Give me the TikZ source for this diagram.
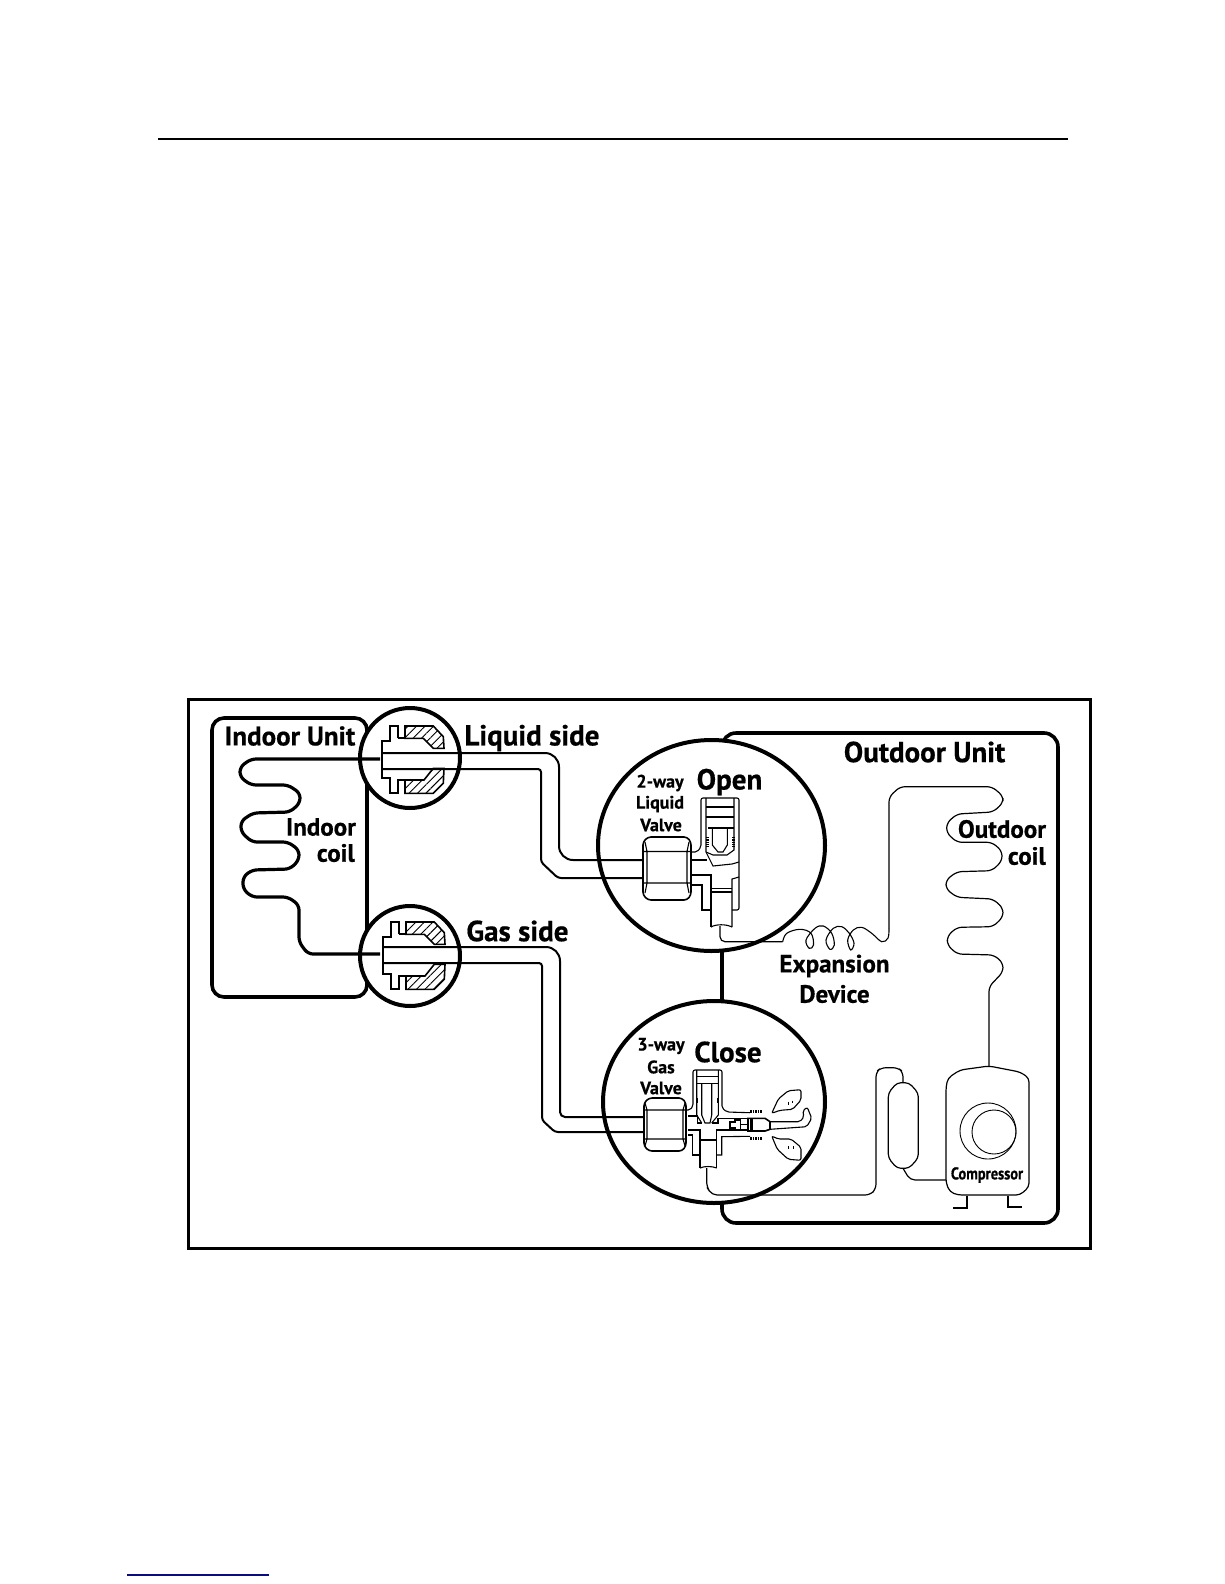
\documentclass[tikz,border=0pt]{standalone}
\usepackage{fontspec}
\setmainfont{PT Sans}[BoldFeatures={FakeBold=0.6}]
\usetikzlibrary{arrows.meta,positioning,patterns.meta}

\begin{document}
\begin{tikzpicture}[x=1pt, y=-1pt,
  lbl/.style={inner sep=0pt, font=\fontsize{29}{29}\selectfont\bfseries},
  midlbl/.style={inner sep=0pt, font=\fontsize{25}{25}\selectfont\bfseries},
  smalllbl/.style={inner sep=0pt, font=\fontsize{18}{18}\selectfont\bfseries},
  ring/.style={line width=4pt, fill=white},
  unitbox/.style={line width=3.6pt, rounded corners=12pt},
  pipe/.style={line width=2pt},
  coilpipe/.style={line width=3.2pt, rounded corners=5pt},
  thin pipe/.style={line width=1.2pt, rounded corners=5pt},
  part/.style={line width=1.1pt},
  flarepart/.style={line width=2pt},
  hatched/.style={line width=1.6pt, pattern={Lines[angle=45, distance=6pt, line width=0.9pt]}},
  thread/.style={line width=3pt, dash pattern=on 1.3pt off 1pt}]
  \useasboundingbox (0,0) rectangle (1224,1584);
  % page rules and frame
  \draw[line width=2pt] (158,139) -- (1068,139);
  \draw[line width=1.5pt, color={rgb,255:red,10;green,10;blue,130}] (127,1575) -- (269,1575);
  \draw[line width=3pt] (188,699) rectangle (1090,1248);
  % unit boxes
  \draw[unitbox] (212,718) rectangle (367,997);
  \draw[unitbox, rounded corners=14pt] (722,742) -- (722,733) -- (1058,733) -- (1058,1223) -- (722,1223) -- (722,1190);
  \draw[line width=4.5pt] (722,950) -- (722,1002);
  % rings
  \node[ring, circle, draw, minimum size=100pt, inner sep=0pt] (liquidring) at (410,758) {};
  \node[ring, circle, draw, minimum size=100pt, inner sep=0pt] (gasring) at (410,956) {};
  \draw[ring] (711.5,845.5) ellipse [x radius=113.5, y radius=105.5];
  \draw[ring] (714,1102) ellipse [x radius=111, y radius=101];
  % indoor coil
  \draw[coilpipe] (380,759) -- (251,759) -- (240,767) -- (240,777) -- (251,785) -- (288,785) -- (300,793) -- (300,803)
    -- (290,812) -- (253,813) -- (241,821) -- (241,832) -- (252,842) -- (288,842) -- (299,850) -- (299,860)
    -- (290,869) -- (252,870) -- (243,877) -- (243,889) -- (252,897) -- (288,897) -- (299,905) -- (299,942)
    -- (308,954) -- (380,954);
  % flare joints
  \begin{scope}[shift={(410,758)}]
    \draw[hatched] (-5,-32) -- (23.3,-32) -- (33.3,-21.3) -- (34,-9.7) -- (23.3,-9.7) -- (13.3,-19.7) -- (-5,-19.7) -- cycle;
    \draw[hatched] (-5,35.3) -- (23.3,35.3) -- (33.3,25.3) -- (34,10.3) -- (23.3,10.3) -- (14,22) -- (-5,22) -- cycle;
    \draw[flarepart] (-12.3,-19.7) -- (-12.3,-32) -- (-20,-32) -- (-20,-17) -- (-28.3,-17) -- (-28.3,20.3)
      -- (-20,20.3) -- (-20,35.3) -- (-12.3,35.3) -- (-12.3,22) -- (-5,22);
    \draw[flarepart] (-12.3,-19.7) -- (-5,-19.7);
  \end{scope}
  \begin{scope}[shift={(411,954)}]
    \draw[hatched] (-5,-32) -- (23.3,-32) -- (33.3,-21.3) -- (34,-9.7) -- (23.3,-9.7) -- (13.3,-19.7) -- (-5,-19.7) -- cycle;
    \draw[hatched] (-5,35.3) -- (23.3,35.3) -- (33.3,25.3) -- (34,10.3) -- (23.3,10.3) -- (14,22) -- (-5,22) -- cycle;
    \draw[flarepart] (-12.3,-19.7) -- (-12.3,-32) -- (-20,-32) -- (-20,-17) -- (-28.3,-17) -- (-28.3,20.3)
      -- (-20,20.3) -- (-20,35.3) -- (-12.3,35.3) -- (-12.3,22) -- (-5,22);
    \draw[flarepart] (-12.3,-19.7) -- (-5,-19.7);
  \end{scope}
  % liquid and gas pipes
  \draw[pipe, rounded corners=14pt] (382,753) -- (559,753) -- (559,860) [rounded corners=5pt] -- (643,860);
  \draw[pipe, rounded corners=3pt] (382,769) -- (541,769) -- (541,862) -- (558,878) -- (643,878);
  \draw[pipe, rounded corners=14pt] (383,947) -- (560,947) [rounded corners=5pt] -- (560,1117) -- (644,1117);
  \draw[pipe, rounded corners=3pt] (383,963) -- (542,963) -- (542,1120) -- (555,1132) -- (644,1132);
  % open valve
  \draw[line width=1.6pt, rounded corners=3pt, fill=white] (648,837) -- (687,837) -- (691,842) -- (691,895) -- (687,900) -- (648,900) -- (643,895) -- (643,842) -- cycle;
  \draw[part] (644,851.5) -- (690,851.5) (644,883) -- (690,883)
    (645,842) -- (647,851.5) -- (647,883) -- (645,893) (689,842) -- (687,851.5) -- (687,883) -- (689,893);
  \draw[part, rounded corners=2pt] (692,852) -- (697,852) -- (701,847) -- (701,798) -- (739,798) -- (739,910) -- (732,910);
  \draw[part] (706,798) -- (706,852) -- (713,866) -- (732,864) -- (739,862);
  \draw[part] (734,798) -- (734,850) -- (727,855) -- (713,855) -- (706,852);
  \draw[part] (706,807) -- (734,807) (706,817) -- (734,817) (708,828) -- (734,828);
  \draw[part] (712.3,828) -- (712.3,845) -- (718,852) -- (723,852) -- (727.3,845) -- (727.3,828);
  \draw[thread] (707,837) -- (707,847);
  \draw[thread] (733,837) -- (733,847);
  \draw[part] (692,860) -- (707,860);
  \draw[part] (692,875) -- (711,875) -- (711,927);
  \draw[part] (692,885) -- (702,885) -- (702,910) -- (711,910);
  \draw[part] (739,877) -- (732,879) -- (732,927);
  \draw[part] (711,927) .. controls (716,924) and (726,924) .. (732,927);
  \draw[part] (711,888.5) -- (732,888.5);
  \draw[line width=2pt] (711,892) -- (732,892);
  % expansion device and outdoor coil
  \draw[thin pipe] (720,926) -- (720,941.7) -- (782.7,941.7);
  \draw[part] plot[smooth, tension=0.6] coordinates {(782.7,941.7) (786.7,933.3) (800,929.3) (811,933.3) (813.5,945) (809.3,948.3)
    (806,940) (815,928.3) (823.3,926) (831.7,933.3) (834.3,945) (830,949.3) (826,940) (833.3,928.3) (841.7,926.7)
    (849.3,933.3) (854,943.3) (850.7,950) (847.7,940) (853.3,930) (861.7,927.3) (871.7,933.3) (881.7,941.7) (888,938) (889,928)};
  \draw[thin pipe] (889,928) -- (889,797) -- (900,786.7) -- (992,786.7) -- (1003,796) -- (1003,803) -- (993,812) -- (957,814)
    -- (946.7,823) -- (946.7,833) -- (957,842.3) -- (992,842.3) -- (1002,851) -- (1002,861) -- (992,870.7) -- (957,871.7)
    -- (946,880) -- (946,889) -- (957,897.3) -- (993,899) -- (1003,908) -- (1003,917) -- (993,926.7) -- (957,927.3)
    -- (947.3,936) -- (947.3,945) -- (957,954) -- (994,955) -- (1003,963) -- (1003,972) -- (989,986.7) -- (989,1066);
  % close valve
  \draw[line width=1.6pt, rounded corners=3pt, fill=white] (649,1098) -- (682,1098) -- (686,1103) -- (686,1146) -- (682,1151) -- (649,1151) -- (644,1146) -- (644,1103) -- cycle;
  \draw[part] (645,1110) -- (685,1110) (645,1139) -- (685,1139)
    (645,1103) -- (647,1110) -- (647,1139) -- (645,1146) (685,1103) -- (683,1110) -- (683,1139) -- (685,1146);
  \draw[part, rounded corners=2pt] (687,1110) -- (690,1110) -- (693,1106) -- (693,1070) -- (722,1070) -- (722,1108) -- (727,1112) -- (750,1112.7);
  \draw[part] (696.7,1070) -- (696.7,1115) -- (701.7,1123) (718.3,1070) -- (718.3,1115) -- (711.7,1123);
  \draw[part] (696.7,1076.7) -- (718.3,1076.7) (696.7,1083.3) -- (718.3,1083.3);
  \draw[part] (701.7,1083) -- (701.7,1115) -- (705,1123) -- (710,1123) -- (711.7,1115) -- (711.7,1083);
  \draw[line width=2pt] (697.3,1098) -- (697.3,1103) (717.7,1098) -- (717.7,1103);
  \draw[part] (688,1116) -- (697.3,1116) -- (697.3,1123) -- (701.7,1123);
  \draw[part] (711.7,1123) -- (718,1123) -- (718,1118.3) -- (748,1118.3);
  \draw[part] (688,1130) -- (700,1130) -- (700,1168);
  \draw[part] (716.7,1168) -- (716.7,1130) -- (748,1130);
  \draw[part] (688,1135) -- (692.7,1135) -- (692.7,1155) -- (700,1155);
  \draw[part] (716.7,1155) -- (721.7,1155) -- (721.7,1136.7) -- (750,1136.3);
  \draw[line width=2pt] (700,1140) -- (716.7,1140);
  \draw[part] (700,1168) .. controls (704,1166) and (712,1166) .. (716.7,1168);
  % charge port
  \draw[line width=1.6pt] (748,1118.3) -- (765,1118.3) -- (770,1121.7) -- (770,1129.3) -- (765,1131) -- (748,1131) -- cycle;
  \draw[line width=3pt] (751,1119) -- (751,1130.5);
  \draw[line width=3pt, dash pattern=on 1.5pt off 1pt] (750,1111.3) -- (762,1111.3);
  \draw[line width=3pt, dash pattern=on 1.5pt off 1pt] (750,1138) -- (762,1138);
  \draw[part] (730,1122) -- (735,1122) -- (735,1120) -- (740.7,1120) -- (740.7,1129.3) -- (735,1129.3) -- (735,1128) -- (730,1128) -- cycle;
  \draw[part] (740.7,1124.5) -- (748,1124.5);
  \draw[part, rounded corners=2pt] (770,1121.7) -- (800,1121.7) -- (804,1116.7) -- (802.7,1110.7) -- (807.3,1107.3) -- (811.7,1118.3) -- (806.7,1126.7) -- (770,1129.3);
  % hand
  \draw[part, rounded corners=2pt] (771.7,1113.3) -- (778.3,1099) -- (788.3,1090.7) -- (801,1089.7) -- (801,1100) -- (792.7,1109.3) -- (780,1110.3) -- cycle;
  \draw[part, rounded corners=2pt] (771.7,1136) -- (778.3,1139) -- (791,1139) -- (801,1147.3) -- (801,1160.3) -- (788.3,1159.3) -- (777.3,1149.3) -- cycle;
  \draw[part] (788.3,1101.7) -- (788.3,1105) (792.7,1100.7) -- (792.7,1103.3) (788.3,1146) -- (788.3,1149.3) (793.3,1146) -- (793.3,1149.3);
  % suction line and accumulator
  \draw[thin pipe] (706.7,1168) -- (706.7,1187) -- (712,1195) -- (870,1195) -- (876,1189) -- (876,1072) -- (881,1067.7) -- (898,1067.7) -- (903,1072) -- (903,1082.7);
  \draw[thin pipe, rounded corners=4pt] (897,1082.7) -- (909,1082.7) -- (918.3,1093) -- (918.3,1158) -- (909,1168.3) -- (897,1168.3) -- (888.3,1158) -- (888.3,1093) -- cycle;
  \draw[thin pipe] (903,1168.3) -- (910,1180) -- (946,1180);
  % compressor
  \draw[thin pipe, rounded corners=4pt] (989,1066) -- (960,1070) -- (948,1078) -- (946,1087) -- (946,1183) -- (950,1192) -- (958,1195) -- (1020,1195) -- (1029,1187) -- (1029,1078) -- (1020,1072) -- cycle;
  \draw[part] (967,1196) -- (967,1208) -- (952.7,1208) (1008,1196) -- (1008,1207) -- (1022,1207);
  \node[circle, draw, line width=0.9pt, minimum size=56pt, inner sep=0pt] (compouter) at (988,1131) {};
  \node[circle, draw, line width=0.9pt, minimum size=44pt, inner sep=0pt] (compinner) at (994,1132) {};
  % labels
  \node[lbl, font=\fontsize{27}{27}\selectfont\bfseries] (indoorunit) at (290,736) {Indoor Unit};
  \node[lbl] (liquidside) at (532,738) {Liquid side};
  \node[lbl] (gasside) at (517.5,931) {Gas side};
  \node[lbl] (outdoorunit) at (924.5,752) {Outdoor Unit};
  \node[lbl] (openlbl) at (729.5,782) {Open};
  \node[lbl] (closelbl) at (728,1052) {Close};
  \node[midlbl] (indoorlbl) at (321,827) {Indoor};
  \node[midlbl, anchor=east] (coillbl) at (355,853) {coil};
  \node[midlbl] (outdoorlbl) at (1002,829) {Outdoor};
  \node[midlbl, anchor=east] (outcoillbl) at (1046,856) {coil};
  \node[midlbl] (expansionlbl) at (834.5,966) {Expansion};
  \node[midlbl] (devicelbl) at (834.5,994) {Device};
  \node[smalllbl] (twoway) at (660,783) {2-way};
  \node[smalllbl] (liquidlbl) at (660,804) {Liquid};
  \node[smalllbl] (valvelbl) at (661,825) {Valve};
  \node[smalllbl] (threeway) at (661,1046) {3-way};
  \node[smalllbl] (gaslbl) at (661,1067) {Gas};
  \node[smalllbl] (valvelblb) at (661,1088) {Valve};
  \node[inner sep=0pt, font=\fontsize{17}{17}\selectfont\bfseries\addfontfeature{FakeStretch=0.85}] (complbl) at (987,1175) {Compressor};
\end{tikzpicture}
\end{document}
